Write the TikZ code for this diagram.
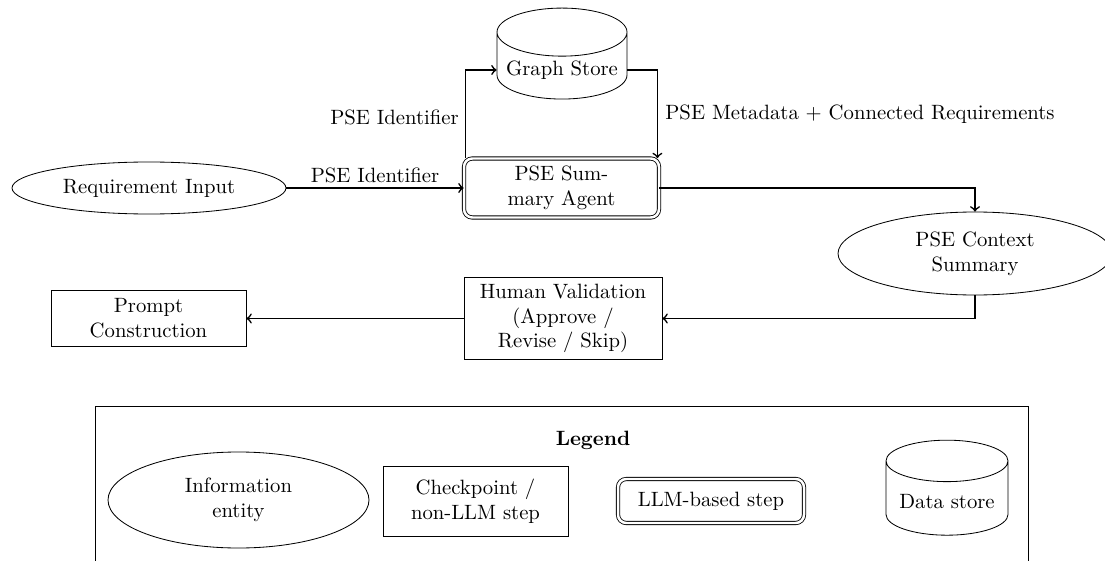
\documentclass[tikz,border=0pt]{standalone}
\usetikzlibrary{shapes.geometric}
\newdimen\pxu
\pxu=0.483pt
\begin{document}
\begin{tikzpicture}[x=0.483pt,y=-0.483pt,
  every node/.style={align=center, inner sep=2pt},
  entity/.style={draw, ellipse},
  checkbox/.style={draw, rectangle},
  llmbox/.style={draw, double, double distance=1.2pt, rounded corners=4pt, rectangle},
  store/.style={draw, cylinder, shape border rotate=90, aspect=0.4},
  conn/.style={->, thick}]
\useasboundingbox (0,0) rectangle (1105,561);
\clip (0,0) rectangle (1105,561);
% main flow
\node[store, minimum width=130\pxu, minimum height=87\pxu] (gs) at (562,70) {Graph Store};
\node[llmbox, minimum width=195\pxu, minimum height=59\pxu] (agent) at (561.5,188) {PSE Sum-\\mary Agent};
\node[entity, minimum width=274\pxu, minimum height=52\pxu] (req) at (149,188) {Requirement Input};
\node[entity, minimum width=274\pxu, minimum height=83\pxu] (ctx) at (975,253.5) {PSE Context\\Summary};
\node[checkbox, minimum width=198\pxu, minimum height=82\pxu] (hv) at (563,318.5) {Human Validation\\(Approve /\\Revise / Skip)};
\node[checkbox, minimum width=195\pxu, minimum height=56\pxu] (pc) at (148.5,318.5) {Prompt\\Construction};
% connectors
\draw[conn] (req.east) -- node[above] {PSE Identifier} (agent.west);
\draw[conn] ([xshift=2\pxu]agent.north west) |- node[pos=0.23, left, xshift=-2\pxu] {PSE Identifier} (gs.west);
\draw[conn] (gs.east) -| node[pos=0.75, right, xshift=3\pxu] {PSE Metadata $+$ Connected Requirements} ([xshift=-2\pxu]agent.north east);
\draw[conn] (agent.east) -| (ctx.north);
\draw[conn] (ctx.south) |- (hv.east);
\draw[conn] (hv.west) -- (pc.east);
% legend
\node[draw, rectangle, minimum width=933\pxu, minimum height=200\pxu, anchor=north west, inner sep=0pt] (legend) at (95,406) {};
\node[font=\bfseries] (legtitle) at (593,440) {Legend};
\node[entity, minimum width=261\pxu, minimum height=96\pxu] (l1) at (238.5,500) {Information\\entity};
\node[checkbox, minimum width=185\pxu, minimum height=70\pxu] (l2) at (475.5,501) {Checkpoint /\\non-LLM step};
\node[llmbox, minimum width=186\pxu, minimum height=44\pxu] (l3) at (711,501) {LLM-based step};
\node[store, minimum width=122\pxu, minimum height=95\pxu] (l4) at (947,502) {Data store};
\end{tikzpicture}
\end{document}
